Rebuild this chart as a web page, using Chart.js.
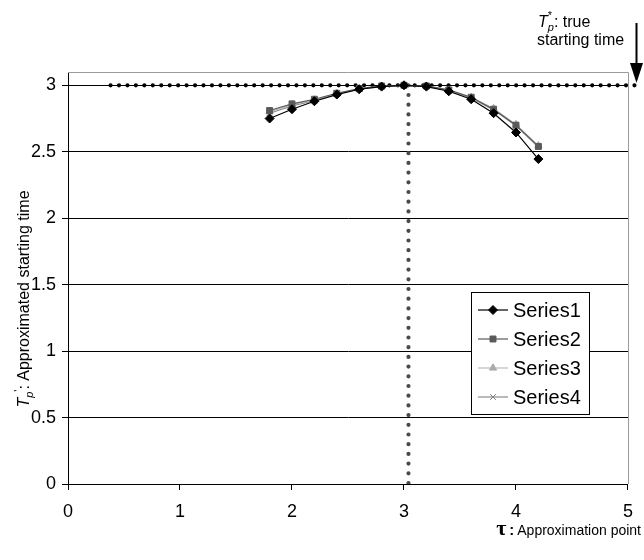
<!DOCTYPE html>
<html>
<head>
<meta charset="utf-8">
<title>Approximated starting time</title>
<script src="https://cdn.jsdelivr.net/npm/chart.js@4.4.1/dist/chart.umd.min.js"></script>
<style>
  html, body { margin: 0; padding: 0; background: #fff; }
  #wrap { width: 644px; height: 560px; }
</style>
</head>
<body>
<div id="wrap"><canvas id="tpChart" width="644" height="560"></canvas></div>
<script>
// approximation points (tau) and approximated starting times
const tau = [1.8, 2.0, 2.2, 2.4, 2.6, 2.8, 3.0, 3.2, 3.4, 3.6, 3.8, 4.0, 4.2];
const series1 = [2.75, 2.82, 2.88, 2.93, 2.97, 2.99, 3.0, 2.99, 2.955, 2.895, 2.79, 2.645, 2.445];
const series2 = [2.81, 2.86, 2.895, 2.94, 2.975, 2.995, 3.0, 2.995, 2.965, 2.91, 2.82, 2.7, 2.54];
const series3 = [2.8, 2.855, 2.89, 2.94, 2.972, 2.993, 3.0, 2.994, 2.963, 2.91, 2.825, 2.705, 2.545];
const series4 = [2.79, 2.845, 2.885, 2.935, 2.97, 2.99, 3.0, 2.993, 2.96, 2.905, 2.815, 2.695, 2.535];

// dotted reference lines: true starting time and the chosen approximation point
const trueStartX = [0.38, 5.1];
const trueStartY = [3, 3];
const approxPointX = [3.04, 3.04];
const approxPointY = [3, 0];

const xTicks = [0, 1, 2, 3, 4, 5];
const yTicks = [0, 0.5, 1, 1.5, 2, 2.5, 3];

const FONT = "'Liberation Sans', Arial, sans-serif";

const toPoints = (xs, ys) => xs.map((x, i) => ({ x: x, y: ys[i] }));

const seriesStyles = [
  { label: "Series1", data: series1, color: "#000000", line: "#000000", pointStyle: "rectRot", radius: 4.5 },
  { label: "Series2", data: series2, color: "#5a5a5a", line: "#5a5a5a", pointStyle: "rect", radius: 4.2 },
  { label: "Series3", data: series3, color: "#ababab", line: "#bdbdbd", pointStyle: "triangle", radius: 4.2 },
  { label: "Series4", data: series4, color: "#808080", line: "#8c8c8c", pointStyle: "crossRot", radius: 4 },
];

const datasets = seriesStyles.map((s) => ({
  label: s.label,
  data: toPoints(tau, s.data),
  borderColor: s.line,
  borderWidth: 1.2,
  pointStyle: s.pointStyle,
  pointRadius: s.radius,
  pointBackgroundColor: s.color,
  pointBorderColor: s.color,
  pointBorderWidth: 1,
  tension: 0,
}));

datasets.push({
  label: "true starting time",
  data: toPoints(trueStartX, trueStartY),
  borderColor: "#000",
  borderWidth: 4.2,
  borderDash: [0, 8.45],
  borderCapStyle: "round",
  pointRadius: 0,
  clip: false,
});
datasets.push({
  label: "approximation point",
  data: toPoints(approxPointX, approxPointY),
  borderColor: "#4a4a4a",
  borderWidth: 4.2,
  borderDash: [0, 9.7],
  borderCapStyle: "round",
  pointRadius: 0,
});

// draws a run of text pieces with different fonts / offsets (sub & superscripts)
function drawRuns(ctx, runs, x, y) {
  let cx = x;
  runs.forEach((r) => {
    ctx.font = r.font;
    ctx.fillText(r.text, cx, y + (r.dy || 0));
    if (!r.stack) cx += ctx.measureText(r.text).width;
  });
  return cx;
}
function runsWidth(ctx, runs) {
  let w = 0;
  runs.forEach((r) => {
    ctx.font = r.font;
    if (!r.stack) w += ctx.measureText(r.text).width;
  });
  return w;
}

function drawMarker(ctx, s, x, y) {
  ctx.fillStyle = s.color;
  ctx.strokeStyle = s.color;
  ctx.lineWidth = 1;
  if (Chart.helpers && Chart.helpers.drawPoint) {
    Chart.helpers.drawPoint(ctx, { pointStyle: s.pointStyle, radius: s.radius, rotation: 0, borderWidth: 1 }, x, y);
  } else {
    ctx.beginPath();
    ctx.arc(x, y, s.radius, 0, Math.PI * 2);
    ctx.fill();
  }
}

const extras = {
  id: "extras",
  beforeDatasetsDraw(chart) {
    const { ctx, chartArea: a } = chart;
    ctx.save();
    ctx.strokeStyle = "#9a9a9a";
    ctx.lineWidth = 1;
    const top = Math.round(a.top) + 0.5;
    const right = Math.round(a.right) + 0.5;
    ctx.beginPath();
    ctx.moveTo(a.left, top);
    ctx.lineTo(right, top);
    ctx.lineTo(right, a.bottom);
    ctx.stroke();
    ctx.restore();
  },
  afterDraw(chart) {
    const ctx = chart.ctx;
    ctx.save();
    ctx.fillStyle = "#000";
    ctx.textBaseline = "alphabetic";
    ctx.textAlign = "left";

    // legend box
    const lx = 471.5, ly = 292.5, lw = 118, lh = 122;
    ctx.fillStyle = "#fff";
    ctx.fillRect(lx, ly, lw, lh);
    ctx.strokeStyle = "#000";
    ctx.lineWidth = 1;
    ctx.strokeRect(lx, ly, lw, lh);
    seriesStyles.forEach((s, i) => {
      const cy = 310 + i * 29;
      ctx.strokeStyle = s.line;
      ctx.lineWidth = 1.2;
      ctx.beginPath();
      ctx.moveTo(478, cy);
      ctx.lineTo(508, cy);
      ctx.stroke();
      drawMarker(ctx, s, 493, cy);
      ctx.fillStyle = "#000";
      ctx.font = "20px " + FONT;
      ctx.textBaseline = "middle";
      ctx.fillText(s.label, 513, cy + 1);
    });
    ctx.textBaseline = "alphabetic";

    // y axis title, rotated
    const yRuns = [
      { text: "T", font: "italic 16px " + FONT },
      { text: "p", font: "italic 11px " + FONT, dy: 4 },
      { text: "'", font: "11px " + FONT, dy: -7 },
      { text: ": Approximated starting time", font: "16px " + FONT },
    ];
    ctx.save();
    ctx.translate(29, 299);
    ctx.rotate(-Math.PI / 2);
    ctx.fillStyle = "#000";
    drawRuns(ctx, yRuns, -runsWidth(ctx, yRuns) / 2, 0);
    ctx.restore();

    // x axis title
    ctx.fillStyle = "#000";
    ctx.font = "14px " + FONT;
    const label = "Approximation point";
    const lwid = ctx.measureText(label).width;
    const tx = 641 - lwid;
    ctx.fillText(label, tx, 535);
    ctx.font = "bold 22px 'Liberation Serif', 'DejaVu Serif', serif";
    ctx.fillText("\u03c4", tx - 21, 535);
    ctx.font = "bold 15px " + FONT;
    ctx.fillText(":", tx - 8, 535);

    // true starting time note and arrow
    drawRuns(ctx, [
      { text: "T", font: "italic 16px " + FONT },
      { text: "*", font: "11px " + FONT, dy: -8, stack: true },
      { text: "p", font: "italic 11px " + FONT, dy: 4 },
      { text: ": true", font: "16px " + FONT },
    ], 538, 27);
    ctx.font = "16px " + FONT;
    ctx.fillText("starting time", 537, 45);

    ctx.strokeStyle = "#000";
    ctx.lineWidth = 2;
    ctx.beginPath();
    ctx.moveTo(636.5, 23);
    ctx.lineTo(636.5, 66);
    ctx.stroke();
    ctx.beginPath();
    ctx.moveTo(630, 63);
    ctx.lineTo(643, 63);
    ctx.lineTo(636.5, 83);
    ctx.closePath();
    ctx.fill();
    ctx.restore();
  },
};

new Chart(document.getElementById("tpChart"), {
  type: "line",
  data: { datasets: datasets },
  options: {
    responsive: false,
    animation: false,
    devicePixelRatio: 1,
    layout: { padding: { top: 72, right: 15, left: 0, bottom: 0 } },
    plugins: {
      legend: { display: false },
      tooltip: { enabled: false },
    },
    scales: {
      x: {
        type: "linear",
        min: xTicks[0],
        max: xTicks[xTicks.length - 1],
        afterBuildTicks: (axis) => {
          axis.ticks = xTicks.map((v) => ({ value: v }));
        },
        afterFit: (axis) => {
          axis.height = 76;
        },
        grid: {
          drawOnChartArea: false,
          drawTicks: true,
          tickLength: 6,
          color: "#000",
        },
        border: { display: true, color: "#000", width: 1 },
        ticks: {
          color: "#000",
          padding: 11,
          maxRotation: 0,
          autoSkip: false,
          callback: (v) => String(v),
          font: { family: FONT, size: 18 },
        },
      },
      y: {
        min: 0,
        max: 3.1,
        afterBuildTicks: (axis) => {
          axis.ticks = yTicks.map((v) => ({ value: v }));
        },
        afterFit: (axis) => {
          axis.width = 68;
        },
        grid: {
          color: "#000",
          lineWidth: 1,
          drawTicks: true,
          tickLength: 6,
        },
        border: { display: true, color: "#000", width: 1 },
        ticks: {
          color: "#000",
          padding: 6,
          autoSkip: false,
          callback: (v) => String(v),
          font: { family: FONT, size: 18 },
        },
      },
    },
  },
  plugins: [extras],
});
</script>
</body>
</html>
